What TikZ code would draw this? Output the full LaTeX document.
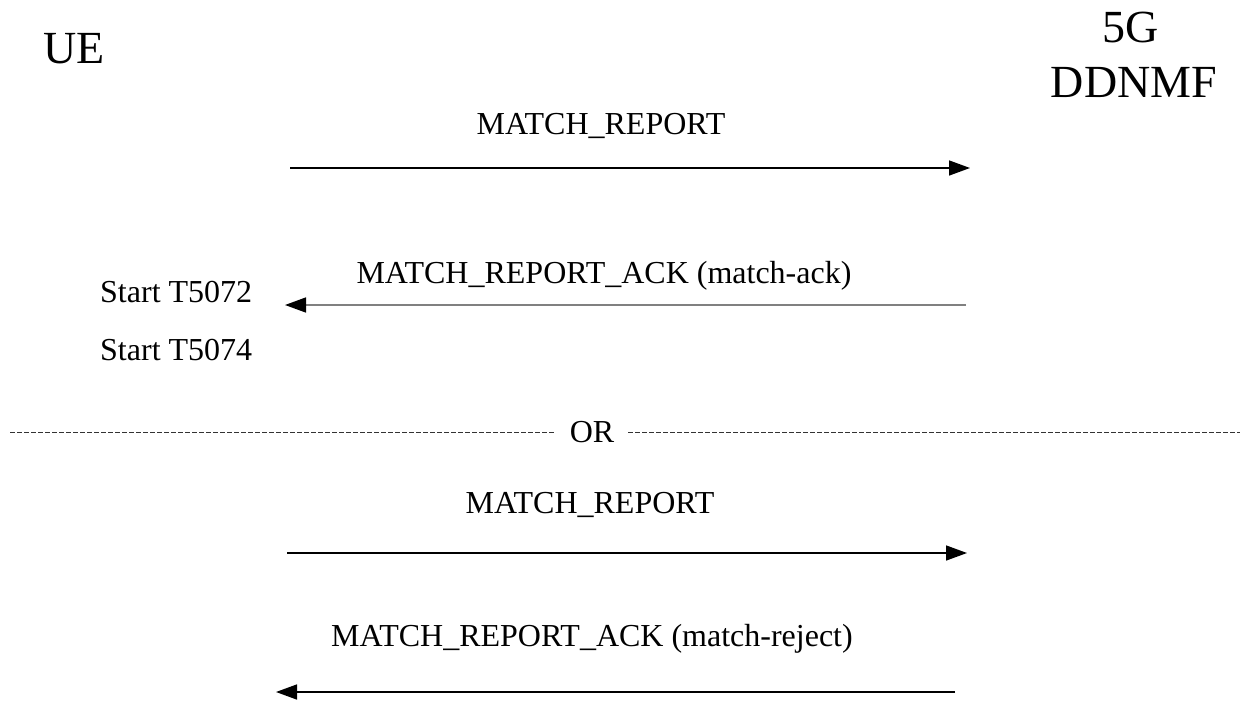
\documentclass[tikz,border=0pt]{standalone}
\usepackage{fontspec}
\setmainfont{Liberation Serif}
\usetikzlibrary{arrows.meta}
\tikzset{
  big/.style={font=\fontsize{46}{55}\selectfont, inner sep=0pt},
  txt/.style={font=\fontsize{32}{38}\selectfont, inner sep=0pt},
  msg/.style={line width=1.5pt, -{Triangle[length=21pt,width=15pt,black]}},
  sep/.style={line width=1pt, dash pattern=on 4.5pt off 2.5pt, black!80}
}
\begin{document}
\begin{tikzpicture}[x=1pt,y=-1pt]
\useasboundingbox (0,0) rectangle (1247,704);
% entities
\node[big, anchor=base west] (ue) at (43,63) {UE};
\node[big, anchor=base] (fiveg) at (1131,42) {5G};
\node[big, anchor=base] (ddnmf) at (1134,97) {DDNMF};
% first exchange
\node[txt, anchor=base] (l1) at (601,134) {MATCH\_REPORT};
\coordinate (a1s) at (290,168);
\coordinate (a1e) at (970,168);
\draw[msg] (a1s) -- (a1e);
\node[txt, anchor=base] (l2) at (604,283) {MATCH\_REPORT\_ACK (match-ack)};
\coordinate (a2s) at (966,305);
\coordinate (a2e) at (285,305);
\draw[msg, draw=black!50] (a2s) -- (a2e);
\node[txt, anchor=base west] (t1) at (100,302) {Start T5072};
\node[txt, anchor=base west] (t2) at (100,360) {Start T5074};
% separator
\node[txt, anchor=base, inner xsep=14pt] (or) at (592,442) {OR};
\coordinate (sl) at (10,432);
\coordinate (sr) at (1240,432);
\draw[sep] (sl) -- (sl -| or.west);
\draw[sep] (sr -| or.east) -- (sr);
% second exchange
\node[txt, anchor=base] (l3) at (590,513) {MATCH\_REPORT};
\coordinate (a3s) at (287,553);
\coordinate (a3e) at (967,553);
\draw[msg] (a3s) -- (a3e);
\node[txt, anchor=base] (l4) at (592,646) {MATCH\_REPORT\_ACK (match-reject)};
\coordinate (a4s) at (955,692);
\coordinate (a4e) at (276,692);
\draw[msg] (a4s) -- (a4e);
\end{tikzpicture}
\end{document}
